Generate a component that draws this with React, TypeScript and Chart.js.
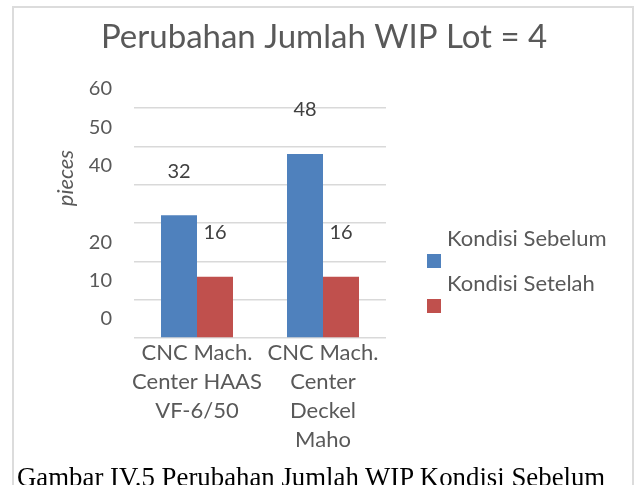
import React, { useEffect, useRef } from 'react';
import { Chart, registerables } from 'chart.js';

Chart.register(...registerables);

const chartTitle = 'Perubahan Jumlah WIP Lot = 4';
const yAxisTitle = 'pieces';
const categories = [
  ['CNC Mach.', 'Center HAAS', 'VF-6/50'],
  ['CNC Mach.', 'Center', 'Deckel', 'Maho'],
];
const seriesNames = ['Kondisi Sebelum', 'Kondisi Setelah'];
const sebelumValues = [32, 48];
const setelahValues = [16, 16];
const seriesColors = ['#4F81BD', '#C0504D'];
const yTickLabels = ['0', '10', '20', '', '40', '50', '60'];
const yMin = 0;
const yMax = 60;
const yStep = 10;
const caption = 'Gambar IV.5 Perubahan Jumlah WIP Kondisi Sebelum';

const FONT = 'Lato, "Open Sans", sans-serif';
const TEXT = '#595959';

const decor = {
  id: 'decor',
  beforeDraw(chart: any) {
    const { ctx } = chart;
    ctx.save();
    ctx.fillStyle = '#ffffff';
    ctx.fillRect(0, 0, chart.width, chart.height);
    ctx.strokeStyle = '#dcdcdc';
    ctx.lineWidth = 2;
    ctx.strokeRect(13, 7, 620, 600);
    ctx.restore();
  },
  afterDraw(chart: any) {
    const { ctx } = chart;
    ctx.save();
    ctx.fillStyle = TEXT;
    ctx.textAlign = 'center';
    ctx.textBaseline = 'middle';
    ctx.font = `33px ${FONT}`;
    ctx.fillText(chartTitle, 324, 37);

    ctx.save();
    ctx.translate(66, 178);
    ctx.rotate(-Math.PI / 2);
    ctx.font = `italic 22px ${FONT}`;
    ctx.fillText(yAxisTitle, 0, 0);
    ctx.restore();

    ctx.fillStyle = '#404040';
    ctx.font = `20px ${FONT}`;
    chart.data.datasets.forEach((ds: any, di: number) => {
      const meta = chart.getDatasetMeta(di);
      meta.data.forEach((bar: any, i: number) => {
        ctx.fillText(String(ds.data[i]), bar.x, bar.y - 44);
      });
    });

    ctx.textAlign = 'left';
    ctx.textBaseline = 'alphabetic';
    ctx.font = `22px ${FONT}`;
    chart.data.datasets.forEach((ds: any, di: number) => {
      const off = di * 45;
      ctx.fillStyle = ds.backgroundColor;
      ctx.fillRect(427, 254 + off, 14, 14);
      ctx.fillStyle = TEXT;
      ctx.fillText(ds.label, 447, 246 + off);
    });
    ctx.restore();
  },
};

export default function App() {
  const ref = useRef<HTMLCanvasElement>(null);
  useEffect(() => {
    if (!ref.current) return;
    const chart = new Chart(ref.current, {
      type: 'bar',
      data: {
        labels: categories,
        datasets: [
          {
            label: seriesNames[0],
            data: sebelumValues,
            backgroundColor: seriesColors[0],
            categoryPercentage: 0.5714,
            barPercentage: 1,
          },
          {
            label: seriesNames[1],
            data: setelahValues,
            backgroundColor: seriesColors[1],
            categoryPercentage: 0.5714,
            barPercentage: 1,
          },
        ],
      },
      options: {
        animation: false,
        responsive: false,
        layout: { padding: { top: 108, right: 253, bottom: 0, left: 0 } },
        plugins: {
          legend: { display: false },
          title: { display: false },
          tooltip: { enabled: false },
        },
        scales: {
          x: {
            grid: { display: false, drawTicks: false },
            border: { display: false },
            ticks: {
              color: TEXT,
              padding: 0,
              maxRotation: 0,
              autoSkip: false,
              font: { family: FONT, size: 22, lineHeight: 29 / 22 },
            },
            afterFit: (s: any) => {
              s.height = 147;
            },
          },
          y: {
            min: yMin,
            max: yMax,
            grid: { color: '#d9d9d9', lineWidth: 1.5, drawTicks: false },
            border: { display: false },
            ticks: {
              stepSize: yStep,
              color: TEXT,
              padding: 22,
              labelOffset: -19,
              font: { family: FONT, size: 20 },
              callback: (v: any, i: number) => yTickLabels[i] ?? String(v),
            },
            afterFit: (s: any) => {
              s.width = 134;
            },
          },
        },
      },
      plugins: [decor],
    });
    return () => chart.destroy();
  }, []);

  return (
    <div style={{ position: 'absolute', left: 0, top: 0, width: 639, height: 485, overflow: 'hidden', background: '#fff' }}>
      <canvas ref={ref} width={639} height={485} style={{ position: 'absolute', left: 0, top: 0, width: 639, height: 485 }} />
      <div
        style={{
          position: 'absolute',
          left: 17,
          top: 462,
          fontFamily: '"Liberation Serif", "Times New Roman", serif',
          fontSize: 26.8,
          color: '#000',
          whiteSpace: 'nowrap',
          background: '#fff',
        }}
      >
        {caption}
      </div>
    </div>
  );
}
